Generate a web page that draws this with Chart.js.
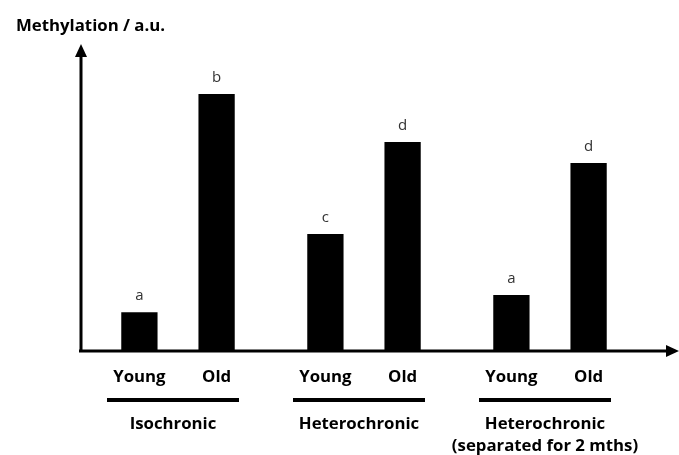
<!DOCTYPE html>
<html>
<head>
<meta charset="utf-8">
<script src="https://cdn.jsdelivr.net/npm/chart.js@4.4.1/dist/chart.umd.min.js"></script>
<style>
  html, body { margin: 0; padding: 0; background: #fff; }
  #wrap { width: 679px; height: 455px; position: relative; }
</style>
</head>
<body>
<div id="wrap"><canvas id="chart"></canvas></div>
<script>
const groups = ["Isochronic", "Heterochronic", "Heterochronic"];
const groupNotes = ["", "", "(separated for 2 mths)"];
const seriesNames = ["Young", "Old"];
const youngValues = [12.7, 38.2, 18.3];
const oldValues = [84.0, 68.3, 61.4];
const youngLetters = ["a", "c", "a"];
const oldLetters = ["b", "d", "d"];
const yTitle = "Methylation / a.u.";
const yMax = 100;

const FONT = "'Open Sans', 'Noto Sans', sans-serif";

const drawExtras = {
  id: "drawExtras",
  afterDraw(chart) {
    const c = chart.ctx;
    const area = chart.chartArea;
    const xs = chart.scales.x;
    const base = area.bottom;
    c.save();

    // axes
    c.strokeStyle = "#000";
    c.fillStyle = "#000";
    c.lineWidth = 3;
    c.beginPath();
    c.moveTo(81, base);
    c.lineTo(81, 54);
    c.moveTo(79, base);
    c.lineTo(670, base);
    c.stroke();
    // arrow heads
    c.beginPath();
    c.moveTo(81, 44);
    c.lineTo(75, 57);
    c.lineTo(87, 57);
    c.closePath();
    c.fill();
    c.beginPath();
    c.moveTo(679, base);
    c.lineTo(666, base - 6);
    c.lineTo(666, base + 6);
    c.closePath();
    c.fill();

    // title
    c.font = "bold 16.8px " + FONT;
    c.textAlign = "left";
    c.textBaseline = "middle";
    c.fillText(yTitle, 16, 26);

    // letters above bars and series labels below
    const letterSets = [youngLetters, oldLetters];
    chart.data.datasets.forEach((ds, di) => {
      const meta = chart.getDatasetMeta(di);
      meta.data.forEach((bar, i) => {
        c.font = "15px " + FONT;
        c.fillStyle = "#333";
        c.textAlign = "center";
        c.textBaseline = "alphabetic";
        c.fillText(letterSets[di][i], bar.x, bar.y - 12);
        c.font = "bold 16.8px " + FONT;
        c.fillStyle = "#000";
        c.textBaseline = "middle";
        c.fillText(seriesNames[di], bar.x, 377);
      });
    });

    // group underline + group labels
    groups.forEach((g, i) => {
      const cx = xs.getPixelForValue(i) - 5;
      c.lineWidth = 4;
      c.beginPath();
      c.moveTo(cx - 66, 400);
      c.lineTo(cx + 66, 400);
      c.stroke();
      c.font = "bold 16.8px " + FONT;
      c.textAlign = "center";
      c.textBaseline = "middle";
      c.fillText(g, cx, 424);
      if (groupNotes[i]) c.fillText(groupNotes[i], cx, 446);
    });
    c.restore();
  }
};

new Chart(document.getElementById("chart"), {
  type: "bar",
  data: {
    labels: groups,
    datasets: [
      { label: seriesNames[0], data: youngValues, backgroundColor: "#000" },
      { label: seriesNames[1], data: oldValues, backgroundColor: "#000" }
    ]
  },
  options: {
    responsive: true,
    maintainAspectRatio: false,
    animation: false,
    categoryPercentage: 0.83,
    barPercentage: 0.47,
    layout: { padding: { left: 85, right: 36, top: 45, bottom: 104 } },
    plugins: { legend: { display: false }, tooltip: { enabled: false } },
    scales: {
      x: { display: false },
      y: { display: false, min: 0, max: yMax }
    }
  },
  plugins: [drawExtras]
});
</script>
</body>
</html>
